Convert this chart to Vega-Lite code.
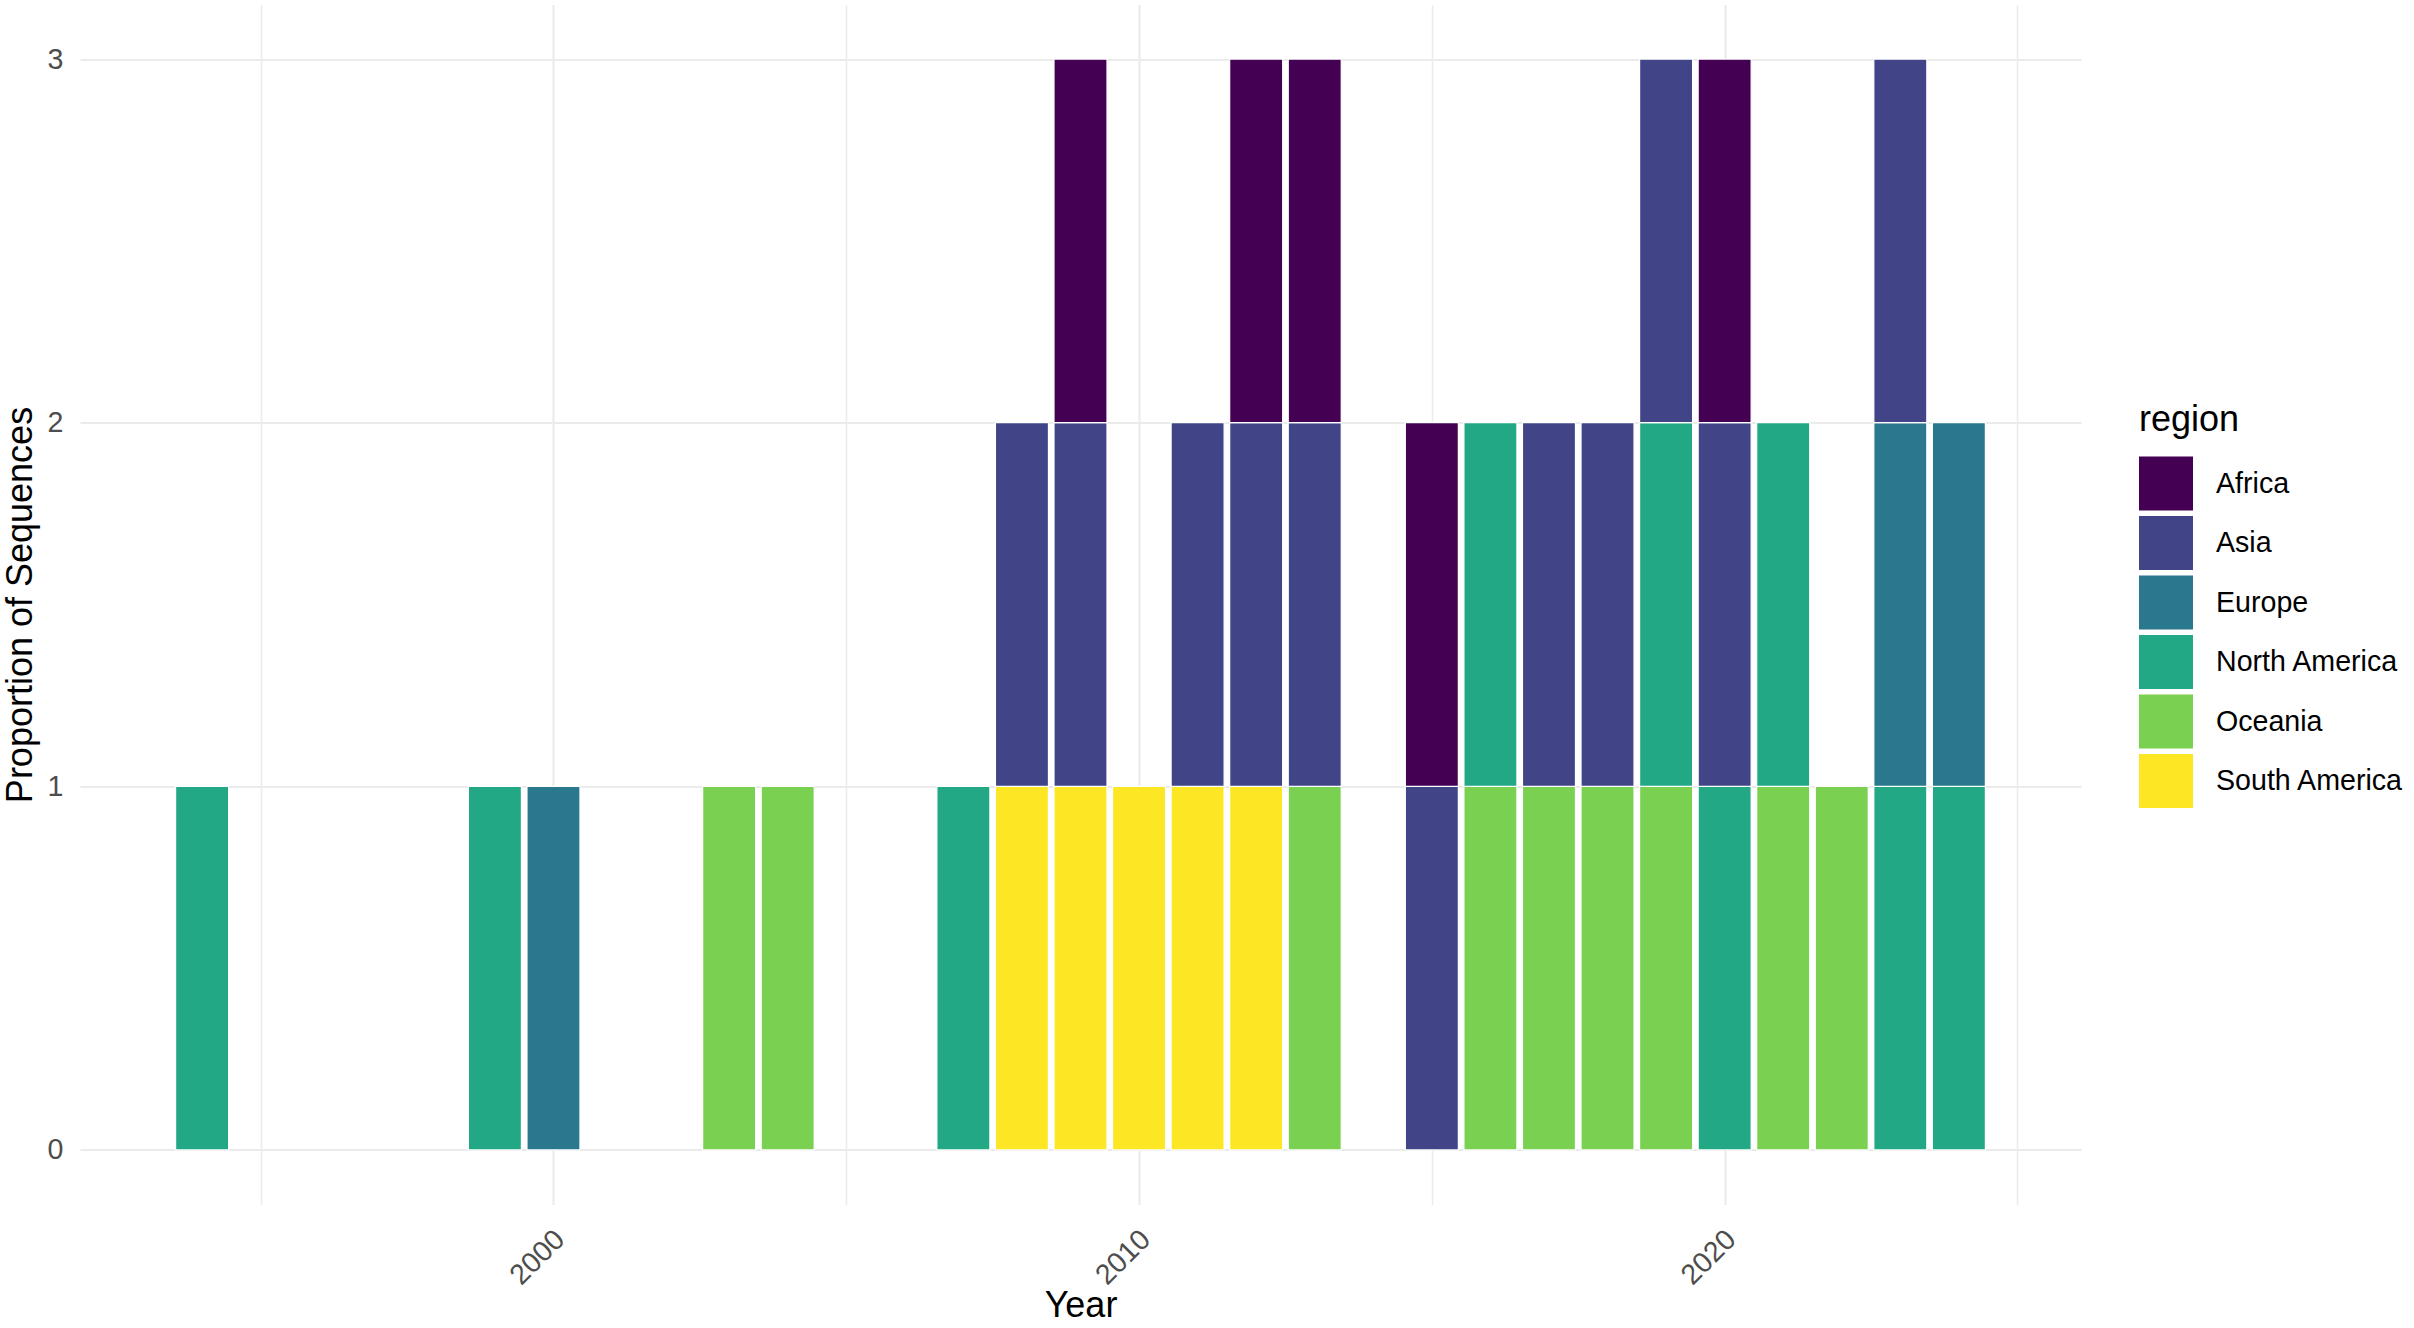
{
  "$schema": "https://vega.github.io/schema/vega-lite/v6.json",
  "autosize": "none",
  "width": 2001,
  "height": 1200,
  "padding": {"left": 80, "top": 4.5, "right": 333, "bottom": 123.5},
  "background": "white",
  "config": {
    "view": {"stroke": null},
    "font": "Liberation Sans"
  },
  "data": {
    "values": [
      {"year": 1994, "region": "North America", "n": 1},
      {"year": 1999, "region": "North America", "n": 1},
      {"year": 2000, "region": "Europe", "n": 1},
      {"year": 2003, "region": "Oceania", "n": 1},
      {"year": 2004, "region": "Oceania", "n": 1},
      {"year": 2007, "region": "North America", "n": 1},
      {"year": 2008, "region": "South America", "n": 1},
      {"year": 2008, "region": "Asia", "n": 1},
      {"year": 2009, "region": "South America", "n": 1},
      {"year": 2009, "region": "Asia", "n": 1},
      {"year": 2009, "region": "Africa", "n": 1},
      {"year": 2010, "region": "South America", "n": 1},
      {"year": 2011, "region": "South America", "n": 1},
      {"year": 2011, "region": "Asia", "n": 1},
      {"year": 2012, "region": "South America", "n": 1},
      {"year": 2012, "region": "Asia", "n": 1},
      {"year": 2012, "region": "Africa", "n": 1},
      {"year": 2013, "region": "Oceania", "n": 1},
      {"year": 2013, "region": "Asia", "n": 1},
      {"year": 2013, "region": "Africa", "n": 1},
      {"year": 2015, "region": "Asia", "n": 1},
      {"year": 2015, "region": "Africa", "n": 1},
      {"year": 2016, "region": "Oceania", "n": 1},
      {"year": 2016, "region": "North America", "n": 1},
      {"year": 2017, "region": "Oceania", "n": 1},
      {"year": 2017, "region": "Asia", "n": 1},
      {"year": 2018, "region": "Oceania", "n": 1},
      {"year": 2018, "region": "Asia", "n": 1},
      {"year": 2019, "region": "Oceania", "n": 1},
      {"year": 2019, "region": "North America", "n": 1},
      {"year": 2019, "region": "Asia", "n": 1},
      {"year": 2020, "region": "North America", "n": 1},
      {"year": 2020, "region": "Asia", "n": 1},
      {"year": 2020, "region": "Africa", "n": 1},
      {"year": 2021, "region": "Oceania", "n": 1},
      {"year": 2021, "region": "North America", "n": 1},
      {"year": 2022, "region": "Oceania", "n": 1},
      {"year": 2023, "region": "North America", "n": 1},
      {"year": 2023, "region": "Europe", "n": 1},
      {"year": 2023, "region": "Asia", "n": 1},
      {"year": 2024, "region": "North America", "n": 1},
      {"year": 2024, "region": "Europe", "n": 1}
    ]
  },
  "mark": {"type": "bar", "width": 53, "stroke": "white", "strokeWidth": 1.2},
  "encoding": {
    "x": {
      "field": "year",
      "type": "quantitative",
      "title": "Year",
      "scale": {"domain": [1992, 2026], "nice": false, "zero": false},
      "axis": {
        "values": [1995, 2000, 2005, 2010, 2015, 2020, 2025],
        "labelExpr": "datum.value % 10 == 0 ? datum.label : ''",
        "format": "d",
        "domain": false,
        "ticks": false,
        "grid": true,
        "gridColor": "#EBEBEB",
        "gridWidth": {"condition": {"test": "datum.value % 10 != 0", "value": 1.5}, "value": 2.2},
        "labelAngle": -45,
        "labelAlign": "right",
        "labelBaseline": "middle",
        "labelPadding": 30,
        "labelOffset": 6,
        "labelFontSize": 28.6,
        "labelColor": "#4D4D4D",
        "titleFontSize": 36,
        "titleFontWeight": "normal",
        "titleColor": "black",
        "titleBaseline": "alphabetic",
        "titleY": 112
      }
    },
    "y": {
      "field": "n",
      "type": "quantitative",
      "stack": "zero",
      "title": "Proportion of Sequences",
      "scale": {"domain": [-0.15, 3.15], "nice": false, "zero": false},
      "axis": {
        "values": [0, 0.5, 1, 1.5, 2, 2.5, 3],
        "format": "d",
        "labelExpr": "datum.value % 1 == 0 ? datum.label : ''",
        "domain": false,
        "ticks": false,
        "grid": true,
        "gridColor": "#EBEBEB",
        "gridWidth": {"condition": {"test": "datum.value % 1 != 0", "value": 1.5}, "value": 2.2},
        "labelPadding": 17,
        "labelFontSize": 28.6,
        "labelColor": "#4D4D4D",
        "titleFontSize": 36,
        "titleFontWeight": "normal",
        "titleColor": "black",
        "titleAngle": -90,
        "titleBaseline": "alphabetic",
        "titleAlign": "center",
        "titleX": -49,
        "titleY": 600
      }
    },
    "color": {
      "field": "region",
      "type": "nominal",
      "scale": {
        "domain": ["Africa", "Asia", "Europe", "North America", "Oceania", "South America"],
        "range": ["#440154", "#414487", "#2A788E", "#22A884", "#7AD151", "#FDE725"]
      },
      "legend": {
        "orient": "none",
        "legendX": 2059,
        "legendY": 398,
        "padding": 0,
        "title": "region",
        "titleFontSize": 36,
        "titleFontWeight": "normal",
        "titleColor": "black",
        "titlePadding": 18,
        "labelFontSize": 28.6,
        "labelColor": "black",
        "labelOffset": 23,
        "labelLimit": 400,
        "rowPadding": 5.5,
        "symbolType": "square",
        "symbolSize": 2916,
        "symbolStrokeWidth": 0,
        "symbolOpacity": 1
      }
    },
    "order": {"field": "region", "sort": "descending"}
  }
}
